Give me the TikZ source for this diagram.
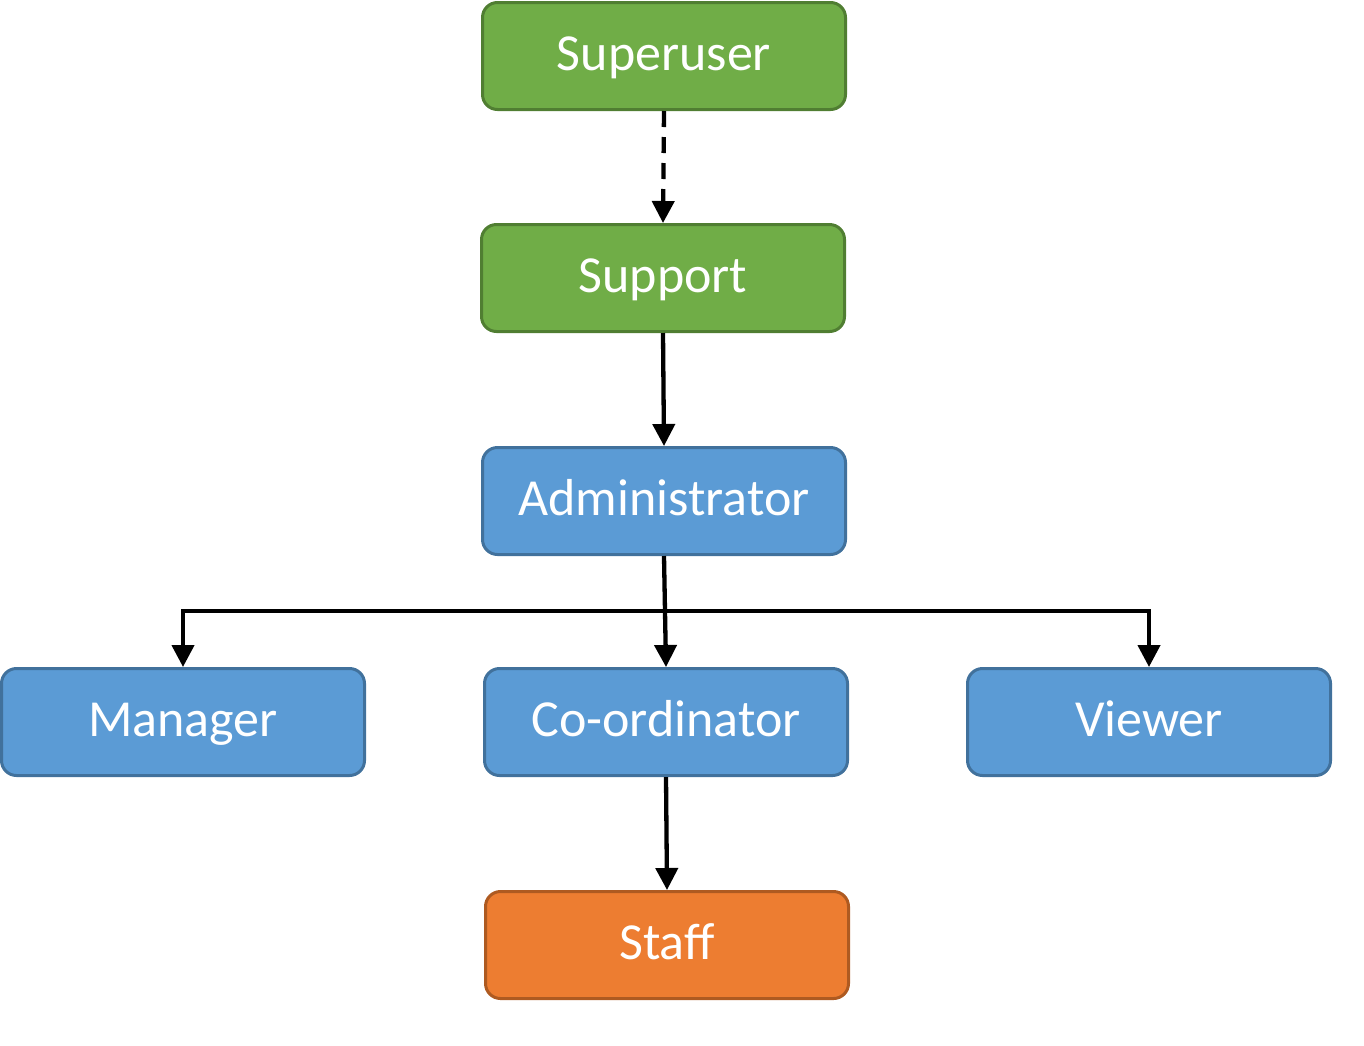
\documentclass[tikz,border=0pt]{standalone}
\usepackage{fontspec}
\setmainfont{Carlito}
\usetikzlibrary{arrows.meta}
\definecolor{gfill}{HTML}{70AD47}
\definecolor{gdraw}{HTML}{507E32}
\definecolor{bfill}{HTML}{5B9BD5}
\definecolor{bdraw}{HTML}{41719C}
\definecolor{ofill}{HTML}{ED7D31}
\definecolor{odraw}{HTML}{AE5A21}
\tikzset{
  rolebox/.style={rounded corners=15pt, line width=3pt, minimum width=363pt, minimum height=107pt,
    inner sep=0pt, text=white, text height=38pt, text depth=9pt, font=\fontsize{52}{62}\selectfont},
  greenbox/.style={rolebox, fill=gfill, draw=gdraw},
  bluebox/.style={rolebox, fill=bfill, draw=bdraw},
  orangebox/.style={rolebox, fill=ofill, draw=odraw},
  conn/.style={line width=4.3pt, -{Triangle[width=22pt,length=22pt]}}
}
\begin{document}
\begin{tikzpicture}[x=1pt,y=-1pt]
\useasboundingbox (0,0) rectangle (1364,1045);
\node[greenbox] (superuser) at (664,56) {Superuser};
\node[greenbox] (support) at (663,278) {Support};
\node[bluebox] (admin) at (664,501) {Administrator};
\node[bluebox] (manager) at (183,722) {Manager};
\node[bluebox] (coord) at (666,722) {Co-ordinator};
\node[bluebox] (viewer) at (1149,722) {Viewer};
\node[orangebox] (staff) at (667,945) {Staff};
\coordinate (j) at (664,611);
\draw[conn, dash pattern=on 16pt off 10pt] (superuser.south) -- (support.north);
\draw[conn] (support.south) -- (admin.north);
\draw[conn] (admin.south) -- (coord.north);
\draw[conn] (j) -| (manager.north);
\draw[conn] (j) -| (viewer.north);
\draw[conn] (coord.south) -- (staff.north);
\end{tikzpicture}
\end{document}
